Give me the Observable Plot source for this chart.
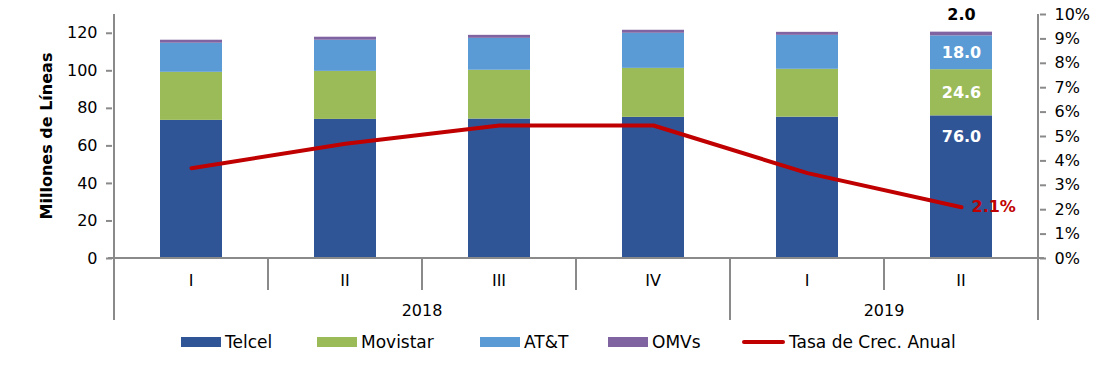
<!DOCTYPE html>
<html><head><meta charset="utf-8">
<script src="https://cdn.jsdelivr.net/npm/d3@7"></script>
<script src="https://cdn.jsdelivr.net/npm/@observablehq/plot@0.6"></script>
<style>
body{margin:0;background:#fff;font-family:"DejaVu Sans",sans-serif;}
#chart{position:relative;width:1116px;height:375px;overflow:hidden;}
#chart svg{display:block;}
.legend{position:absolute;top:325px;left:0;width:1116px;height:50px;font-size:17px;color:#000;}
.item{position:absolute;top:8px;display:flex;align-items:center;height:18px;white-space:nowrap;}
.sw{width:40px;height:10px;margin-right:4px;}
.ln{width:43px;height:4px;border-radius:2px;margin-right:4px;}
</style></head><body><div id="chart"></div>
<script>
// ---- data ----
const years = ["2018","2018","2018","2018","2019","2019"];
const quarters = ["I","II","III","IV","I","II"];
const operators = ["Telcel","Movistar","AT&T","OMVs"];
const telcel   = [73.6, 74.1, 74.3, 75.2, 75.3, 76.0];
const movistar = [25.6, 25.6, 26.0, 26.1, 25.5, 24.6];
const att      = [15.5, 16.6, 17.0, 18.7, 18.1, 18.0];
const omvs     = [1.6, 1.6, 1.6, 1.6, 1.6, 2.0];
const growth   = [3.7, 4.7, 5.45, 5.45, 3.5, 2.1];   // % anual
const leftTicks  = [0, 20, 40, 60, 80, 100, 120];
const rightTicks = [0, 1, 2, 3, 4, 5, 6, 7, 8, 9, 10];
const yTitle = "Millones de Líneas";
const lineName = "Tasa de Crec. Anual";

// ---- styles ----
const colors = ["#2F5597", "#9BBB59", "#5B9BD5", "#8064A2"];
const lineColor = "#C00000";
const axisColor = "#8a8a8a";
const FONT = '"DejaVu Sans", sans-serif';

const leftMax = 130, rightMax = 10, K = leftMax / rightMax;
const keys = quarters.map((q, i) => years[i] + "-" + q);
const series = [telcel, movistar, att, omvs];
const rows = [];
keys.forEach((k, i) => operators.forEach((op, j) => rows.push({key: k, op, value: series[j][i]})));
const lineRows = keys.map((k, i) => ({key: k, rate: growth[i]}));
const last = keys.length - 1;
const lastRow = [{key: keys[last]}];

const plot = Plot.plot({
  width: 1116, height: 325,
  marginLeft: 112, marginRight: 77, marginTop: 14, marginBottom: 67,
  style: {fontFamily: FONT, fontSize: "16px", color: "#000", background: "#fff", overflow: "visible"},
  x: {domain: keys, paddingInner: 0.6, paddingOuter: 0.3, axis: null},
  y: {domain: [0, leftMax], axis: null},
  color: {domain: operators, range: colors},
  marks: [
    Plot.barY(rows, {x: "key", y: "value", fill: "op", z: "op"}),
    Plot.axisY({anchor: "left", ticks: leftTicks, tickFormat: d => d, tickSize: 6, tickPadding: 9, stroke: axisColor, strokeWidth: 2, strokeOpacity: 1, fill: "#000", label: null, fontSize: 16}),
    Plot.axisY({anchor: "right", ticks: rightTicks.map(t => t * K), tickFormat: d => Math.round(d / K) + "%", tickSize: 6, tickPadding: 9, stroke: axisColor, strokeWidth: 2, strokeOpacity: 1, fill: "#000", label: null, fontSize: 16}),
    Plot.line(lineRows, {x: "key", y: d => d.rate * K, stroke: lineColor, strokeWidth: 4, strokeLinecap: "round", strokeLinejoin: "miter"}),
    // labels on last bar
    Plot.text(lastRow, {x: "key", y: () => telcel[last], text: () => telcel[last].toFixed(1), dy: 21, fill: "#fff", fontWeight: "bold", fontSize: 16}),
    Plot.text(lastRow, {x: "key", y: () => telcel[last] + movistar[last] / 2, text: () => movistar[last].toFixed(1), fill: "#fff", fontWeight: "bold", fontSize: 16}),
    Plot.text(lastRow, {x: "key", y: () => telcel[last] + movistar[last] + att[last] / 2, text: () => att[last].toFixed(1), fill: "#fff", fontWeight: "bold", fontSize: 16}),
    Plot.text(lastRow, {x: "key", y: () => telcel[last] + movistar[last] + att[last] + omvs[last], text: () => omvs[last].toFixed(1), dy: -17, fill: "#000", fontWeight: "bold", fontSize: 16}),
    Plot.text([lineRows[last]], {x: "key", y: d => d.rate * K, text: d => d.rate.toFixed(1) + "%", dx: 10, textAnchor: "start", fill: lineColor, fontWeight: "bold", fontSize: 16})
  ]
});

// ---- hierarchical category axis and axis lines, via the plot's scales ----
const svg = d3.select(plot);
const xs = plot.scale("x"), ys = plot.scale("y");
const bw = xs.bandwidth, step = xs.step, gap = (step - bw) / 2;
const y0 = ys.apply(0), yTop = ys.apply(leftMax);
const left = xs.apply(keys[0]) - gap, right = xs.apply(keys[last]) + bw + gap;
const g = svg.append("g").attr("stroke", axisColor).attr("stroke-width", 2);
g.append("line").attr("x1", left).attr("x2", left).attr("y1", yTop).attr("y2", y0 + 62);
g.append("line").attr("x1", right).attr("x2", right).attr("y1", yTop).attr("y2", y0 + 62);
g.append("line").attr("x1", left - 6).attr("x2", right + 6).attr("y1", y0).attr("y2", y0);
for (let i = 0; i < last; i++) {
  const bx = xs.apply(keys[i]) + bw + gap;
  const yearBreak = years[i] !== years[i + 1];
  g.append("line").attr("x1", bx).attr("x2", bx).attr("y1", y0).attr("y2", y0 + (yearBreak ? 62 : 32));
}
const tg = svg.append("g").attr("font-family", FONT).attr("font-size", 16).attr("fill", "#000").attr("text-anchor", "middle");
keys.forEach((k, i) => {
  tg.append("text").attr("x", xs.apply(k) + bw / 2).attr("y", y0 + 22).attr("dy", "0.35em").text(quarters[i]);
});
[...new Set(years)].forEach(yr => {
  const idx = keys.map((k, i) => i).filter(i => years[i] === yr);
  const x1 = xs.apply(keys[idx[0]]) - gap, x2 = xs.apply(keys[idx[idx.length - 1]]) + bw + gap;
  tg.append("text").attr("x", (x1 + x2) / 2).attr("y", y0 + 52).attr("dy", "0.35em").text(yr);
});
svg.append("text").attr("font-family", FONT).attr("font-size", 16).attr("font-weight", "bold").attr("fill", "#000")
  .attr("text-anchor", "middle").attr("transform", `translate(46,${(yTop + y0) / 2}) rotate(-90)`).attr("dy", "0.35em").text(yTitle);

const chart = document.getElementById("chart");
chart.appendChild(plot);

// ---- legend ----
const legend = document.createElement("div");
legend.className = "legend";
const legendLeft = [181, 317, 480, 608];
operators.forEach((op, j) => {
  const it = document.createElement("div");
  it.className = "item"; it.style.left = legendLeft[j] + "px";
  it.innerHTML = `<span class="sw" style="background:${colors[j]}"></span><span></span>`;
  it.lastChild.textContent = op;
  legend.appendChild(it);
});
const li = document.createElement("div");
li.className = "item"; li.style.left = "742px";
li.innerHTML = `<span class="ln" style="background:${lineColor}"></span><span></span>`;
li.lastChild.textContent = lineName;
legend.appendChild(li);
chart.appendChild(legend);
</script>
</body></html>
